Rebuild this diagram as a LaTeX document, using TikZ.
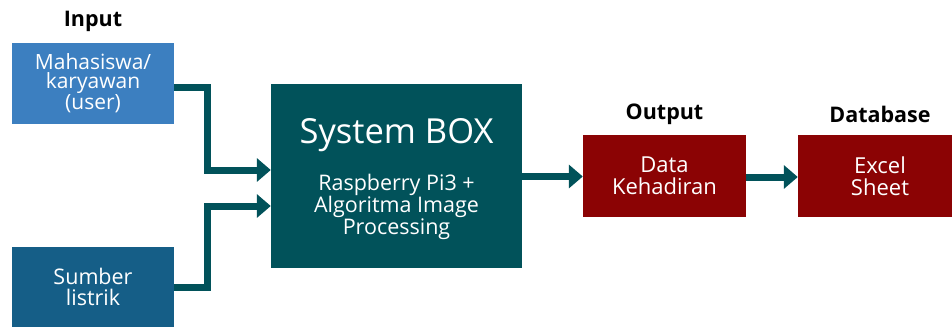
\documentclass[tikz,border=0pt]{standalone}
\usepackage{fontspec}
\setmainfont{Open Sans}
\usetikzlibrary{arrows.meta}
\definecolor{lblue}{HTML}{3C7FC0}
\definecolor{dblue}{HTML}{155E87}
\definecolor{teal}{HTML}{01525A}
\definecolor{dred}{HTML}{8B0304}
\begin{document}
\begin{tikzpicture}[x=1pt,y=-1pt,
  box/.style={draw=none,inner sep=0pt,text=white,align=center},
  lbl/.style={font=\fontsize{21.5}{22}\selectfont\bfseries,text=black},
  conn/.style={draw=teal,line width=7pt,-{Triangle[length=14pt,width=23pt]}}]
\useasboundingbox (0,0) rectangle (952,327);
\clip (0,0) rectangle (952,327);
\fill[white] (0,0) rectangle (952,327);
\node[box,fill=lblue,minimum width=162pt,minimum height=81pt,font=\fontsize{21}{19}\selectfont] (user) at (93,83.5) {Mahasiswa/\\karyawan\\(user)};
\node[box,fill=dblue,minimum width=162pt,minimum height=80pt,font=\fontsize{21.5}{20.5}\selectfont] (power) at (93,287) {Sumber\\listrik};
\node[box,fill=teal,minimum width=251pt,minimum height=184pt] (sys) at (396.5,176) {};
\node[text=white,font=\fontsize{34.5}{36}\selectfont] (systitle) at (396.5,135) {System BOX};
\node[text=white,align=center,font=\fontsize{21.5}{22}\selectfont] (syssub) at (396.5,207) {Raspberry Pi3 +\\Algoritma Image\\Processing};
\node[box,fill=dred,minimum width=163pt,minimum height=82pt,font=\fontsize{22}{22}\selectfont] (data) at (664.5,176) {Data\\Kehadiran};
\node[box,fill=dred,minimum width=164pt,minimum height=82pt,font=\fontsize{22}{22}\selectfont] (excel) at (880,176) {Excel\\Sheet};
\node[lbl] (lin) at (93,21) {Input};
\node[lbl] (lout) at (664.5,114) {Output};
\node[lbl] (ldb) at (880,114) {Database};
\draw[conn] (user.east |- 0,87) -- (207,87) -- (207,170) -- (sys.west |- 0,170);
\draw[conn] (power.east |- 0,287) -- (207,287) -- (207,206) -- (sys.west |- 0,206);
\draw[conn] (sys.east |- 0,176.5) -- (data.west |- 0,176.5);
\draw[conn] (data.east |- 0,177) -- (excel.west |- 0,177);
\end{tikzpicture}
\end{document}
